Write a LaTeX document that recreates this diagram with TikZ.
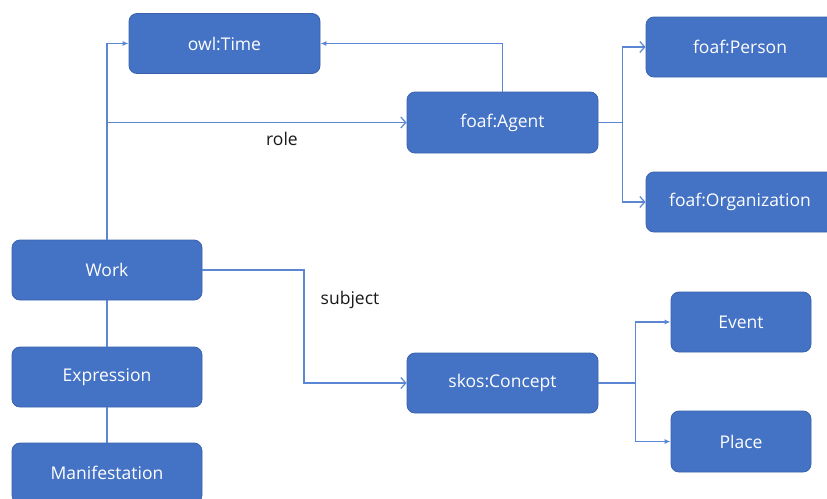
\documentclass[tikz,border=0pt]{standalone}
\usepackage{fontspec}
\setmainfont{Open Sans}
\usetikzlibrary{arrows.meta,calc}
\definecolor{boxfill}{HTML}{4472C4}
\definecolor{boxedge}{HTML}{3A62AC}
\definecolor{wire}{HTML}{5A86D4}
\tikzset{
  cls/.style={draw=boxedge, line width=0.8pt, fill=boxfill, rounded corners=8pt,
    text=white, font=\fontsize{17.5}{20}\selectfont, inner sep=0pt,
    minimum width=191pt, minimum height=60pt},
  wireline/.style={draw=wire, line width=1.2pt},
  opentip/.style={wireline, -{Straight Barb[length=5pt,width=11pt,line width=1.2pt]}},
  solidtip/.style={wireline, -{Latex[length=6pt,width=5pt]}},
  lbl/.style={text=black!90, font=\fontsize{17.5}{20}\selectfont, inner sep=0pt}
}
\begin{document}
\begin{tikzpicture}[x=1pt,y=-1pt]
  \useasboundingbox (0,0) rectangle (827,498);
  \clip (0,0) rectangle (827,498);

  % class boxes
  \node[cls] (time)    at (224.5,43.5) {owl:Time};
  \node[cls, minimum height=61pt] (agent) at (502.5,122.5) {foaf:Agent};
  \node[cls, minimum width=188pt] (person) at (740,47) {foaf:Person};
  \node[cls, minimum width=188pt] (org)    at (740,202) {foaf:Organization};
  \node[cls, minimum width=190pt] (work)   at (107,270) {Work};
  \node[cls, minimum width=190pt] (expr)   at (107,377) {Expression};
  \node[cls, minimum width=190pt] (manif)  at (107,473) {Manifestation};
  \node[cls] (concept) at (502.5,383) {skos:Concept};
  \node[cls, minimum width=140pt] (event)  at (741,322) {Event};
  \node[cls, minimum width=140pt, minimum height=61pt] (place) at (741,441.5) {Place};

  % work -> expression -> manifestation
  \draw[wireline] (work.south) -- (expr.north);
  \draw[wireline] (expr.south) -- (manif.north);

  % work -> time, and the role branch to the agent
  \draw[solidtip] (work.north) |- (time.west);
  \coordinate (rolefork) at (work.north |- agent.west);
  \draw[opentip] (rolefork) -- (agent.west);
  \node[lbl] (rolelbl) at (282,139) {role};

  % agent -> time
  \draw[solidtip] (agent.north) |- (time.east);

  % agent subclasses
  \coordinate (agentfork) at ($(agent.east)+(24,0)$);
  \draw[opentip] (agent.east) -- (agentfork) |- (person.west);
  \draw[opentip] (agentfork) |- (org.west);

  % work -> concept (subject)
  \coordinate (subjbend) at (304,270);
  \draw[opentip] (work.east) -- (subjbend) |- (concept.west);
  \node[lbl] (subjlbl) at (350,300) {subject};

  % concept subclasses
  \coordinate (conceptfork) at ($(concept.east)+(37,0)$);
  \draw[solidtip] (concept.east) -- (conceptfork) |- (event.west);
  \draw[solidtip] (conceptfork) |- (place.west);
\end{tikzpicture}
\end{document}
